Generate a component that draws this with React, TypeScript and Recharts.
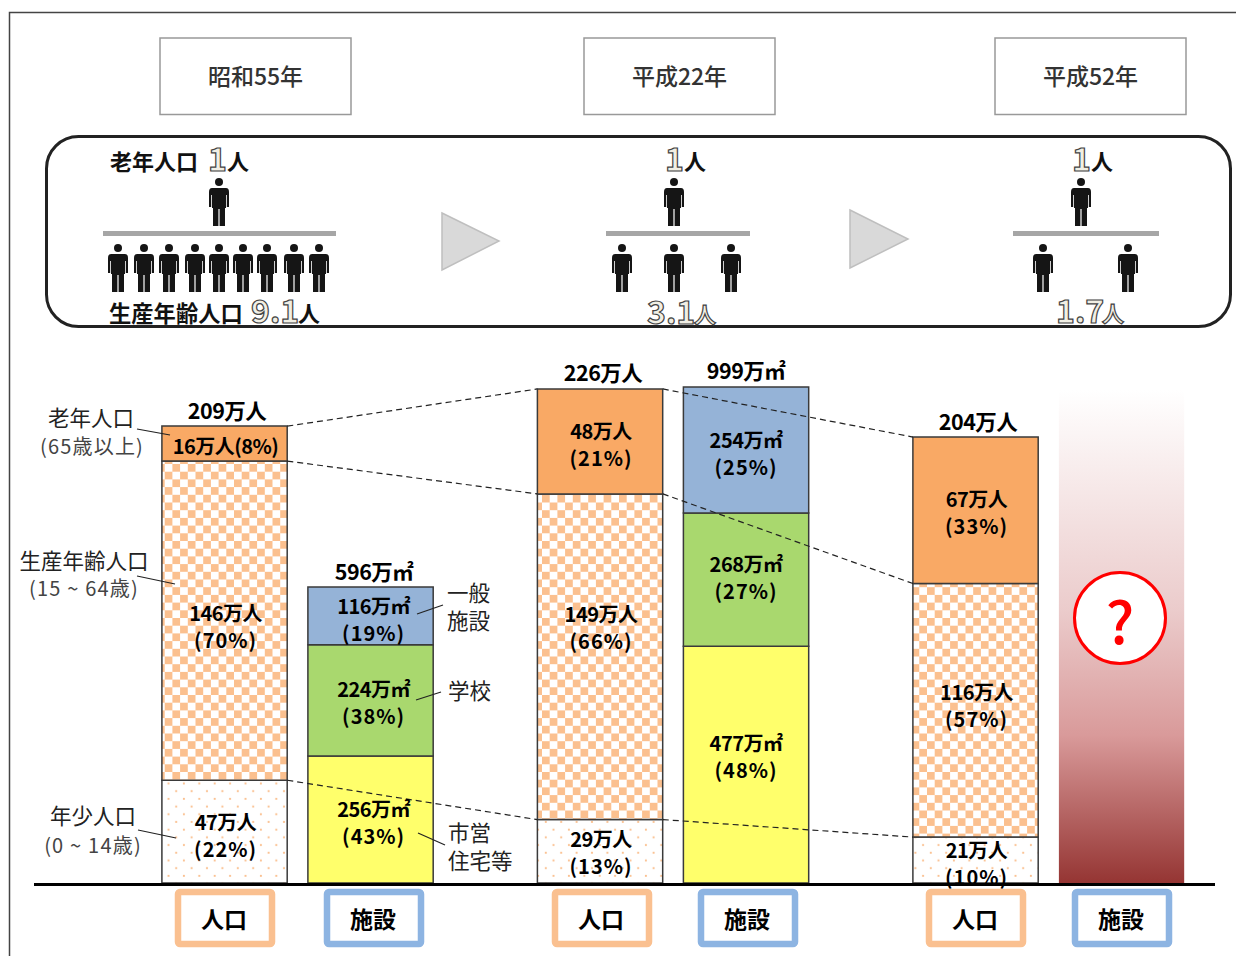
import React from "react";
import { BarChart, Bar, XAxis, YAxis, LabelList, ReferenceLine } from "recharts";

const eras = ["昭和55年", "平成22年", "平成52年"];
const youngPop = [47, 29, 21];
const workingPop = [146, 149, 116];
const oldPop = [16, 48, 67];
const housing = [256, 477, null];
const schools = [224, 268, null];
const generalFac = [116, 254, null];
const unknownFac = [null, null, 993];

const youngPct = [22, 13, 10];
const workingPct = [70, 66, 57];
const oldPct = [8, 21, 33];
const housingPct = [43, 48];
const schoolsPct = [38, 27];
const generalPct = [19, 25];
const popTotals = [209, 226, 204];
const facTotals = [596, 999];

const ratios = ["9.1", "3.1", "1.7"];
const axisKinds = ["人口", "施設"];

const data = eras.map((era, i) => ({
  era,
  slot: i + 0.5,
  young: youngPop[i],
  working: workingPop[i],
  old: oldPop[i],
  housing: housing[i],
  schools: schools[i],
  general: generalFac[i],
  unknown: unknownFac[i],
}));

const FONT = '"Noto Sans CJK JP", "Noto Sans", sans-serif';
const W = 1236;
const H = 956;
const CHART_W = 1236.4;
const BAR = 125.3;
const GAP = 20.7;
const M_LEFT = 109.9;
const M_TOP = 333;
const M_BOTTOM = 73;
const BAND = (CHART_W - M_LEFT) / 3;

// vertical placement of the in-bar captions, which the reference does not centre
const captionShift = {
  young: [0, -2.5, 0],
  working: [2.5, -32.5, -8.5],
  old: [0, 0, -1.5],
  housing: [0, -11.5],
  schools: [-1.5, -5.5],
  general: [0, 0],
};
// horizontal nudges of the captions per era
const popNudge = [1, 1, 1];
const facNudge = [3, 0, 0];
const popTotalNudge = [2.5, 3, 2.5];
const facTotalNudge = [3.5, 0, 0];

const rectOf = (p: any) => {
  const v = p.viewBox && p.viewBox.width != null ? p.viewBox : p;
  return { x: Number(v.x), y: Number(v.y), width: Number(v.width), height: Number(v.height) };
};

const segLabel = (unit: string, vals: any[], pcts: number[], shift: number[], nudge: number[], single?: boolean) => (p: any) => {
  const i = p.index;
  if (vals[i] == null) return null;
  const { x, y, width, height } = rectOf(p);
  const cx = x + width / 2 + (nudge[i] || 0);
  const cy = y + height / 2 + (shift[i] || 0) - 1;
  const common: any = {
    x: cx,
    textAnchor: "middle",
    dominantBaseline: "central",
    fontFamily: FONT,
    fontWeight: 700,
    fontSize: 20,
    fill: "#000",
  };
  if (single && i === 0) {
    return (
      <text {...common} y={cy + 2.5} letterSpacing={-0.5}>
        {`${vals[i]}${unit}(${pcts[i]}%)`}
      </text>
    );
  }
  return (
    <g>
      <text {...common} y={cy - 9.5} letterSpacing={-0.5}>{`${vals[i]}${unit}`}</text>
      <text {...common} y={cy + 17.5} letterSpacing={1}>{`(${pcts[i]}%)`}</text>
    </g>
  );
};

const totalLabel = (unit: string, totals: number[], nudge: number[]) => (p: any) => {
  const i = p.index;
  if (totals[i] == null) return null;
  const { x, y, width } = rectOf(p);
  return (
    <text
      x={x + width / 2 + (nudge[i] || 0)}
      y={y - 17}
      textAnchor="middle"
      dominantBaseline="central"
      fontFamily={FONT}
      fontWeight={700}
      fontSize={21.5}
      letterSpacing={-0.5}
      fill="#000"
    >{`${totals[i]}${unit}`}</text>
  );
};

const cumulative = [
  youngPop,
  youngPop.map((v, i) => v + workingPop[i]),
  youngPop.map((v, i) => v + workingPop[i] + oldPop[i]),
];

const linkStart = (g: number) => g + 0.5 - GAP / 2 / BAND;
const linkEnd = (g: number) => g + 0.5 - (BAR + GAP / 2) / BAND;

const STROKE = "#3a3a3a";

function Person({ x, y }: { x: number; y: number }) {
  return (
    <g transform={`translate(${x} ${y})`} fill="#151515">
      <circle cx={0} cy={4} r={4} />
      <path d="M-7 10 H7 Q10 10 10 14 V29 H7.8 V17 H7 V30 H6 V48 H0.6 V31 H-0.6 V48 H-6 V30 H-7 V17 H-7.8 V29 H-10 V14 Q-10 10 -7 10 Z" />
    </g>
  );
}

const topPeople = [219, 674, 1081];
const lowerPeople = [
  [118, 144, 169, 195, 219, 243, 267, 294, 319],
  [622, 674, 731],
  [1043, 1128],
];
const dividers = [[103, 336], [606, 750], [1013, 1159]];

function Outlined({ x, y, size = 32, anchor = "start", children }: any) {
  return (
    <text
      x={x}
      y={y}
      textAnchor={anchor}
      dominantBaseline="central"
      fontFamily={FONT}
      fontWeight={700}
      fontSize={size}
      fill="#F1EFE4"
      stroke="#444"
      strokeWidth={1.2}
    >
      {children}
    </text>
  );
}

function T({ x, y, size = 21.5, weight = 400, fill = "#222", anchor = "start", ls = 0, children }: any) {
  return (
    <text
      x={x}
      y={y - 1.5}
      textAnchor={anchor}
      dominantBaseline="central"
      fontFamily={FONT}
      fontWeight={weight}
      fontSize={size}
      fill={fill}
      letterSpacing={ls}
    >
      {children}
    </text>
  );
}

function Overlay() {
  const yearBoxes = [[160, 38], [584, 38], [995, 38]];
  const kindBoxes = [178, 327, 555, 701, 929, 1075];
  return (
    <svg width={W} height={H} style={{ position: "absolute", left: 0, top: 0, pointerEvents: "none" }}>
      <path d={`M9.5 956 V12.5 H${W}`} fill="none" stroke="#444" strokeWidth={1.5} />
      {yearBoxes.map(([x, y], i) => (
        <g key={i}>
          <rect x={x} y={y} width={191} height={76.5} fill="#fff" stroke="#999" strokeWidth={1.5} />
          <T x={x + 95.5} y={y + 38} anchor="middle" size={23} weight={500} fill="#333">{eras[i]}</T>
        </g>
      ))}
      <rect x={46.5} y={136.5} width={1184} height={190} rx={32} fill="none" stroke="#222" strokeWidth={3} />

      {topPeople.map((x, i) => (
        <Person key={i} x={x} y={178} />
      ))}
      {dividers.map(([a, b], i) => (
        <rect key={i} x={a} y={231} width={b - a} height={5} fill="#A6A6A6" />
      ))}
      {lowerPeople.map((row, i) => row.map((x, j) => <Person key={`${i}-${j}`} x={x} y={244} />))}
      <polygon points="442,213 499,241 442,270" fill="#D9D9D9" stroke="#BFBFBF" strokeWidth={1.5} />
      <polygon points="850,210 908,239 850,268" fill="#D9D9D9" stroke="#BFBFBF" strokeWidth={1.5} />

      <T x={110} y={161} weight={700} size={22} fill="#111">老年人口</T>
      <Outlined x={208} y={157}>1</Outlined>
      <T x={227} y={161} weight={700} size={22} fill="#111">人</T>
      <Outlined x={665} y={157}>1</Outlined>
      <T x={684} y={161} weight={700} size={22} fill="#111">人</T>
      <Outlined x={1072} y={157}>1</Outlined>
      <T x={1091} y={161} weight={700} size={22} fill="#111">人</T>

      <T x={109} y={313} weight={700} size={22.3} fill="#111">生産年齢人口</T>
      <Outlined x={251} y={309}>{ratios[0]}</Outlined>
      <T x={298} y={313} weight={700} size={22} fill="#111">人</T>
      <Outlined x={647} y={310}>{ratios[1]}</Outlined>
      <Outlined x={694} y={313} size={22}>人</Outlined>
      <Outlined x={1056} y={309}>{ratios[2]}</Outlined>
      <Outlined x={1102} y={312} size={22}>人</Outlined>

      <T x={91} y={418} anchor="middle">老年人口</T>
      <T x={92} y={447} anchor="middle" size={20} fill="#444" ls={1.2}>(65歳以上)</T>
      <T x={84} y={561} anchor="middle">生産年齢人口</T>
      <T x={84} y={589} anchor="middle" size={20} fill="#444" ls={1.2}>(15 ~ 64歳)</T>
      <T x={93} y={816} anchor="middle">年少人口</T>
      <T x={93} y={846} anchor="middle" size={20} fill="#444" ls={1.2}>(0 ~ 14歳)</T>

      <T x={447} y={593}>一般</T>
      <T x={447} y={621}>施設</T>
      <T x={448} y={691}>学校</T>
      <T x={448} y={833}>市営</T>
      <T x={448} y={861}>住宅等</T>

      {[
        [137, 429, 170, 435],
        [137, 576, 175, 584],
        [138, 830, 176, 838],
        [417, 614, 443, 605],
        [416, 700, 441, 692],
        [418, 833, 445, 845],
      ].map(([a, b, c, d], i) => (
        <line key={i} x1={a} y1={b} x2={c} y2={d} stroke="#222" strokeWidth={1.2} />
      ))}

      <circle cx={1120} cy={618} r={45.5} fill="#fff" stroke="#FF0000" strokeWidth={3} />
      <T x={1120} y={620} anchor="middle" size={58} weight={500} fill="#FF0000">?</T>

      <rect x={34} y={883} width={1181} height={3} fill="#000" />

      {kindBoxes.map((x, i) => (
        <g key={i}>
          <rect
            x={x}
            y={892}
            width={94}
            height={52}
            rx={2}
            fill="#fff"
            stroke={i % 2 === 0 ? "#FAC090" : "#8DB4E2"}
            strokeWidth={6.5}
          />
          <T x={x + 46} y={919} anchor="middle" size={23} weight={700} fill="#000">
            {axisKinds[i % 2]}
          </T>
        </g>
      ))}
    </svg>
  );
}

export default function App() {
  return (
    <div style={{ position: "absolute", left: 0, top: 0, width: W, height: H, background: "#fff", overflow: "hidden" }}>
      <BarChart
        width={CHART_W}
        height={H}
        data={data}
        barSize={BAR}
        barGap={GAP}
        margin={{ top: M_TOP, right: 0, bottom: M_BOTTOM, left: M_LEFT }}
      >
        <defs>
          <pattern id="checks" patternUnits="userSpaceOnUse" width={15.4} height={15.4} x={3} y={2}>
            <rect width={15.4} height={15.4} fill="#fff" />
            <rect width={7.7} height={7.7} fill="#FBC08F" />
            <rect x={7.7} y={7.7} width={7.7} height={7.7} fill="#FBC08F" />
          </pattern>
          <pattern id="dots" patternUnits="userSpaceOnUse" width={15.4} height={15.4} x={3} y={2}>
            <rect width={15.4} height={15.4} fill="#fff" />
            <circle cx={3.8} cy={3.8} r={1.1} fill="#FBC08F" />
            <circle cx={11.5} cy={11.5} r={1.1} fill="#FBC08F" />
          </pattern>
          <linearGradient id="fade" x1="0" y1="0" x2="0" y2="1">
            <stop offset="0%" stopColor="#FFFFFF" />
            <stop offset="45%" stopColor="#EBCBCB" />
            <stop offset="70%" stopColor="#D99A9A" />
            <stop offset="100%" stopColor="#953533" />
          </linearGradient>
        </defs>
        <XAxis dataKey="era" hide />
        <XAxis xAxisId="link" dataKey="slot" type="number" domain={[0, 3]} hide allowDataOverflow />
        <YAxis yAxisId="people" hide domain={[0, 251.6]} allowDataOverflow />
        <YAxis yAxisId="facility" hide domain={[0, 1107.6]} allowDataOverflow />

        <Bar yAxisId="people" stackId="p" dataKey="young" fill="url(#dots)" stroke={STROKE} strokeWidth={1.5} isAnimationActive={false}>
          <LabelList dataKey="young" content={segLabel("万人", youngPop, youngPct, captionShift.young, popNudge)} />
        </Bar>
        <Bar yAxisId="people" stackId="p" dataKey="working" fill="url(#checks)" stroke={STROKE} strokeWidth={1.5} isAnimationActive={false}>
          <LabelList dataKey="working" content={segLabel("万人", workingPop, workingPct, captionShift.working, popNudge)} />
        </Bar>
        <Bar yAxisId="people" stackId="p" dataKey="old" fill="#F9A965" stroke={STROKE} strokeWidth={1.5} isAnimationActive={false}>
          <LabelList dataKey="old" content={segLabel("万人", oldPop, oldPct, captionShift.old, popNudge, true)} />
          <LabelList dataKey="old" content={totalLabel("万人", popTotals, popTotalNudge)} />
        </Bar>

        <Bar yAxisId="facility" stackId="f" dataKey="housing" fill="#FFFF6B" stroke={STROKE} strokeWidth={1.5} isAnimationActive={false}>
          <LabelList dataKey="housing" content={segLabel("万㎡", housing, housingPct, captionShift.housing, facNudge)} />
        </Bar>
        <Bar yAxisId="facility" stackId="f" dataKey="schools" fill="#A9D86E" stroke={STROKE} strokeWidth={1.5} isAnimationActive={false}>
          <LabelList dataKey="schools" content={segLabel("万㎡", schools, schoolsPct, captionShift.schools, facNudge)} />
        </Bar>
        <Bar yAxisId="facility" stackId="f" dataKey="general" fill="#95B3D7" stroke={STROKE} strokeWidth={1.5} isAnimationActive={false}>
          <LabelList dataKey="general" content={segLabel("万㎡", generalFac, generalPct, captionShift.general, facNudge)} />
          <LabelList dataKey="general" content={totalLabel("万㎡", facTotals, facTotalNudge)} />
        </Bar>
        <Bar yAxisId="facility" stackId="f" dataKey="unknown" fill="url(#fade)" isAnimationActive={false} />

        {[0, 1].map((g) =>
          cumulative.map((series, k) => (
            <ReferenceLine
              key={`${g}-${k}`}
              xAxisId="link"
              yAxisId="people"
              segment={[
                { x: linkStart(g), y: series[g] },
                { x: linkEnd(g + 1), y: series[g + 1] },
              ]}
              stroke="#222"
              strokeWidth={1.2}
              strokeDasharray="6 4"
            />
          ))
        )}
      </BarChart>
      <Overlay />
    </div>
  );
}
